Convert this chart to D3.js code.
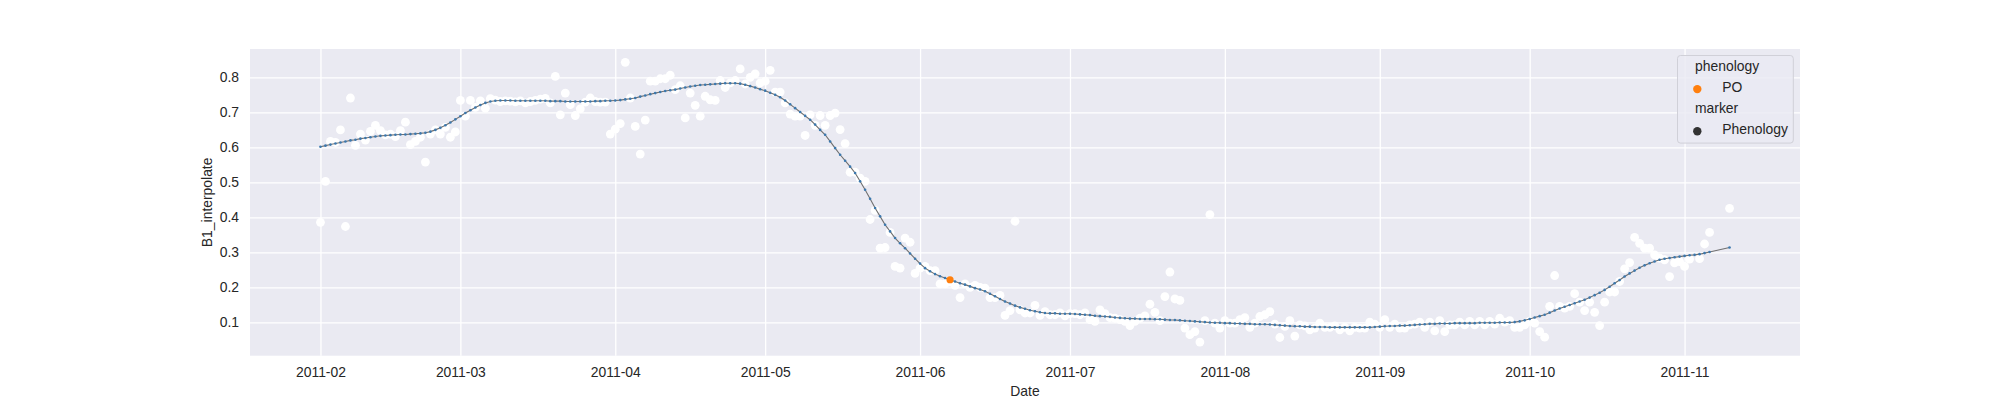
<!DOCTYPE html>
<html><head><meta charset="utf-8">
<script src="https://cdn.jsdelivr.net/npm/d3@7"></script>
<style>body{margin:0;background:#fff} text{font-family:"Liberation Sans",Arial,Helvetica,sans-serif;fill:#262626}</style>
</head><body><svg id="c" width="2000" height="400"></svg>
<script>
// ---- data ----
const lineStart = "2011-02-01"; // daily interpolated B1 values start here
const lineValues = [
0.602,0.605,0.608,0.611,0.614,0.617,0.620,0.622,0.625,0.627,
0.629,0.631,0.633,0.634,0.635,0.636,0.637,0.637,0.638,0.639,
0.640,0.642,0.645,0.650,0.656,0.663,0.671,0.680,0.689,0.698,
0.706,0.714,0.721,0.727,0.731,0.733,0.734,0.734,0.734,0.733,
0.733,0.733,0.733,0.733,0.733,0.733,0.732,0.732,0.732,0.731,
0.731,0.731,0.731,0.731,0.731,0.732,0.732,0.733,0.733,0.734,
0.735,0.737,0.739,0.741,0.745,0.748,0.752,0.755,0.758,0.761,
0.763,0.765,0.768,0.771,0.774,0.776,0.778,0.779,0.780,0.781,
0.782,0.783,0.783,0.783,0.782,0.779,0.775,0.771,0.766,0.762,
0.756,0.750,0.743,0.734,0.723,0.712,0.701,0.690,0.679,0.665,
0.650,0.636,0.617,0.598,0.579,0.562,0.545,0.527,0.503,0.479,
0.453,0.427,0.403,0.379,0.360,0.341,0.326,0.312,0.297,0.282,
0.268,0.255,0.246,0.238,0.232,0.227,0.222,0.217,0.212,0.208,
0.203,0.198,0.194,0.189,0.182,0.175,0.167,0.160,0.154,0.148,
0.143,0.139,0.135,0.132,0.129,0.127,0.126,0.126,0.125,0.125,
0.125,0.124,0.123,0.122,0.121,0.119,0.118,0.117,0.116,0.114,
0.113,0.112,0.111,0.111,0.110,0.110,0.110,0.109,0.109,0.108,
0.107,0.107,0.106,0.105,0.104,0.103,0.102,0.101,0.100,0.099,
0.099,0.098,0.098,0.097,0.097,0.096,0.096,0.095,0.095,0.095,
0.094,0.093,0.092,0.091,0.090,0.089,0.089,0.088,0.088,0.087,
0.087,0.087,0.086,0.086,0.086,0.086,0.086,0.086,0.086,0.086,
0.086,0.087,0.088,0.089,0.090,0.090,0.091,0.091,0.092,0.093,
0.094,0.095,0.096,0.096,0.097,0.097,0.097,0.098,0.098,0.098,
0.098,0.098,0.099,0.099,0.099,0.099,0.100,0.100,0.100,0.101,
0.103,0.106,0.110,0.114,0.118,0.122,0.128,0.134,0.140,0.145,
0.150,0.155,0.160,0.165,0.171,0.178,0.185,0.193,0.202,0.212,
0.221,0.231,0.240,0.248,0.256,0.263,0.269,0.274,0.279,0.282,
0.284,0.286,0.288,0.290,0.292,0.293,0.295,0.298,0.301
];
const lineLast = ["2011-11-10", 0.314];

// raw observations: [day offset from 2011-02-01, B1 value]
const observations = [
[0,.386],[1,.503],[2,.617],[3,.614],[4,.650],[5,.374],[6,.741],[7,.606],[8,.638],[9,.621],
[10,.646],[11,.663],[12,.648],[13,.636],[14,.638],[15,.631],[16,.648],[17,.672],[18,.608],[19,.617],
[20,.629],[21,.558],[22,.638],[23,.650],[24,.638],[25,.657],[26,.629],[27,.644],[28,.734],[29,.689],
[30,.734],[31,.714],[32,.733],[33,.712],[34,.739],[35,.735],[36,.731],[37,.733],[38,.732],[39,.730],
[40,.733],[41,.727],[42,.731],[43,.734],[44,.738],[45,.740],[46,.727],[47,.803],[48,.693],[49,.755],
[50,.722],[51,.691],[52,.710],[53,.729],[54,.741],[55,.731],[56,.729],[57,.729],[58,.638],[59,.652],
[60,.668],[61,.843],[62,.741],[63,.660],[64,.581],[65,.678],[66,.789],[67,.789],[68,.796],[69,.796],
[70,.806],[71,.765],[72,.776],[73,.684],[74,.755],[75,.720],[76,.689],[77,.746],[78,.736],[79,.734],
[80,.791],[81,.771],[82,.784],[83,.791],[84,.824],[85,.781],[86,.800],[87,.810],[88,.784],[89,.789],
[90,.820],[91,.758],[92,.758],[93,.727],[94,.695],[95,.689],[96,.689],[97,.634],[98,.693],[99,.663],
[100,.691],[101,.663],[102,.691],[103,.698],[104,.651],[105,.611],[106,.529],[107,.529],[108,.512],[109,.503],
[110,.394],[111,.420],[112,.312],[113,.314],[114,.357],[115,.260],[116,.255],[117,.341],[118,.329],[119,.240],
[120,.255],[121,.260],[122,.248],[123,.248],[124,.210],[125,.210],[126,.215],[127,.206],[128,.171],[129,.210],
[130,.200],[131,.206],[132,.200],[133,.198],[134,.171],[135,.171],[136,.177],[137,.120],[138,.134],[139,.389],
[140,.136],[141,.127],[142,.127],[143,.149],[144,.120],[145,.131],[146,.122],[147,.122],[148,.127],[149,.119],
[150,.125],[151,.125],[152,.122],[153,.127],[154,.108],[155,.103],[156,.136],[157,.125],[158,.114],[159,.112],
[160,.108],[161,.103],[162,.091],[163,.103],[164,.112],[165,.119],[166,.152],[167,.129],[168,.105],[169,.174],
[170,.244],[171,.167],[172,.163],[173,.084],[174,.065],[175,.074],[176,.044],[177,.105],[178,.408],[179,.098],
[180,.084],[181,.105],[182,.098],[183,.098],[184,.108],[185,.114],[186,.086],[187,.098],[188,.117],[189,.122],
[190,.131],[191,.095],[192,.057],[193,.089],[194,.105],[195,.061],[196,.093],[197,.090],[198,.079],[199,.084],
[200,.098],[201,.086],[202,.086],[203,.090],[204,.079],[205,.086],[206,.076],[207,.086],[208,.084],[209,.084],
[210,.101],[211,.095],[212,.086],[213,.108],[214,.086],[215,.095],[216,.084],[217,.084],[218,.093],[219,.095],
[220,.101],[221,.086],[222,.101],[223,.076],[224,.105],[225,.074],[226,.093],[227,.093],[228,.101],[229,.093],
[230,.103],[231,.093],[232,.103],[233,.093],[234,.103],[235,.095],[236,.112],[237,.101],[238,.105],[239,.086],
[240,.086],[241,.093],[242,.103],[243,.098],[244,.074],[245,.058],[246,.146],[247,.234],[248,.146],[249,.141],
[250,.146],[251,.182],[252,.158],[253,.134],[254,.158],[255,.129],[256,.091],[257,.158],[258,.187],[259,.187],
[260,.217],[261,.253],[262,.271],[263,.343],[264,.326],[265,.312],[266,.312],[267,.293],[268,.284],[269,.279],
[270,.231],[271,.270],[272,.274],[273,.260],[274,.281],[276,.282],[277,.324],[278,.357],[282,.426]
];

const phenoDates = ["2011-06-07"];
const phenoValues = [0.222];
const phenoLabels = ["PO"];

const xTickLabels = ["2011-02","2011-03","2011-04","2011-05","2011-06","2011-07","2011-08","2011-09","2011-10","2011-11"];
const yTicks = [0.1,0.2,0.3,0.4,0.5,0.6,0.7,0.8];
const xLabel = "Date";
const yLabel = "B1_interpolate";
const legendEntries = [
  {type:"title", text:"phenology"},
  {type:"item", text:"PO", color:"#ff7f0e"},
  {type:"title", text:"marker"},
  {type:"item", text:"Phenology", color:"#333333"}
];

// ---- drawing ----
const svg = d3.select("#c");
const L = 250, R = 1800, T = 49, B = 355.7;
const parse = d3.utcParse("%Y-%m-%d");
const parseM = d3.utcParse("%Y-%m");
const t0 = parse(lineStart);
const addDays = (d, n) => d3.utcDay.offset(d, n);

const x = d3.scaleUtc()
  .domain([new Date(+t0 - 14.1*864e5), new Date(+t0 + 296.1*864e5)])
  .range([L, R]);
const y = d3.scaleLinear().domain([0.005, 0.881]).range([B, T]);

svg.append("rect").attr("x", L).attr("y", T).attr("width", R-L).attr("height", B-T).attr("fill", "#eaeaf2");

const xTickDates = xTickLabels.map(parseM);
const gx = svg.append("g").attr("transform", `translate(0,${B})`)
  .call(d3.axisBottom(x).tickValues(xTickDates).tickFormat(d3.utcFormat("%Y-%m")).tickSize(-(B-T)).tickPadding(11));
const gy = svg.append("g").attr("transform", `translate(${L},0)`)
  .call(d3.axisLeft(y).tickValues(yTicks).tickFormat(d3.format(".1f")).tickSize(-(R-L)).tickPadding(11));
[gx, gy].forEach(g => {
  g.select(".domain").remove();
  g.selectAll(".tick line").attr("stroke", "#ffffff").attr("stroke-width", 1.3);
  g.selectAll(".tick text").attr("font-size", "13.9px").attr("fill", "#262626");
});

// observations (white dots)
svg.append("g").selectAll("circle").data(observations).join("circle")
  .attr("cx", d => x(addDays(t0, d[0]))).attr("cy", d => y(d[1]))
  .attr("r", 4.4).attr("fill", "#ffffff");

// interpolated line
const linePts = lineValues.map((v, i) => [addDays(t0, i), v]);
linePts.push([parse(lineLast[0]), lineLast[1]]);
svg.append("path").datum(linePts)
  .attr("d", d3.line().x(d => x(d[0])).y(d => y(d[1])))
  .attr("fill", "none").attr("stroke", "#707070").attr("stroke-width", 1.1);
svg.append("g").selectAll("circle").data(linePts).join("circle")
  .attr("cx", d => x(d[0])).attr("cy", d => y(d[1]))
  .attr("r", 1.3).attr("fill", "#3b78ae");

// phenology point
svg.append("g").selectAll("circle").data(phenoDates).join("circle")
  .attr("cx", (d) => x(parse(d))).attr("cy", (d, i) => y(phenoValues[i]))
  .attr("r", 3.6).attr("fill", "#ff7f0e");

// axis labels
svg.append("text").attr("x", (L+R)/2).attr("y", 396).attr("text-anchor", "middle").attr("font-size", "13.9px").text(xLabel);
svg.append("text").attr("transform", `translate(212,${(T+B)/2}) rotate(-90)`).attr("text-anchor", "middle").attr("font-size", "13.9px").text(yLabel);

// legend
const lg = svg.append("g");
lg.append("rect").attr("x", 1677.5).attr("y", 55.5).attr("width", 115.8).attr("height", 87.6).attr("rx", 3)
  .attr("fill", "#eaeaf2").attr("fill-opacity", 0.8).attr("stroke", "#d0d0d8").attr("stroke-width", 1);
const rowY = [66, 87.3, 108.3, 129.5];
legendEntries.forEach((e, i) => {
  if (e.type === "title") {
    lg.append("text").attr("x", 1695).attr("y", rowY[i]).attr("dy", "0.35em").attr("font-size", "13.9px").text(e.text);
  } else {
    lg.append("circle").attr("cx", 1697.3).attr("cy", rowY[i] + 1.8).attr("r", 4.2).attr("fill", e.color);
    lg.append("text").attr("x", 1722.3).attr("y", rowY[i]).attr("dy", "0.35em").attr("font-size", "13.9px").text(e.text);
  }
});
</script></body></html>
